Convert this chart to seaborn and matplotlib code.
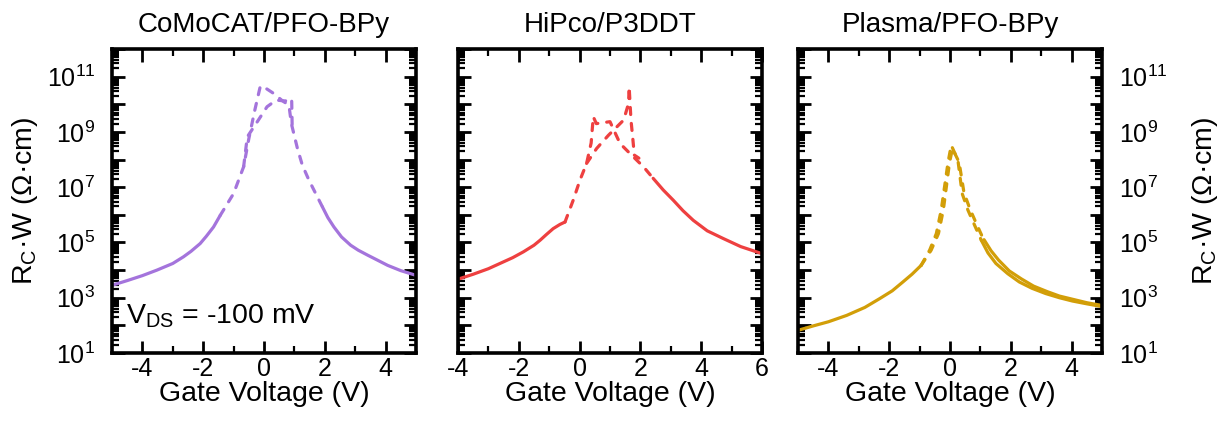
import numpy as np
import pandas as pd
import matplotlib
matplotlib.use("Agg")
import matplotlib.pyplot as plt
import seaborn as sns
from matplotlib.ticker import LogLocator, MultipleLocator, NullFormatter

# ---------------- data (gate voltage V, log10 of R_C*W in ohm*cm) ----------------
titles = ["CoMoCAT/PFO-BPy", "HiPco/P3DDT", "Plasma/PFO-BPy"]
colors = ["#A474DC", "#EE4040", "#D29E08"]
xlims = [(-5, 5), (-4, 6), (-5, 5)]

# CoMoCAT/PFO-BPy
como_solid_left_v = [-5.0, -4.5, -4.0, -3.52, -3.0, -2.65, -2.4, -2.10, -1.9, -1.66, -1.44]
como_solid_left_l = [3.45, 3.62, 3.80, 4.00, 4.24, 4.48, 4.68, 4.96, 5.22, 5.56, 5.98]
como_dash_a_v = [-1.44, -1.0, -0.67, -0.5, -0.3, -0.12, 0.1, 0.32, 0.6, 0.82, 0.9, 1.1, 1.26, 1.48, 1.70, 1.92]
como_dash_a_l = [5.98, 6.77, 7.74, 8.75, 9.8, 10.66, 10.55, 10.39, 10.13, 9.97, 9.3, 8.4, 7.8, 7.25, 6.77, 6.29]
como_dash_b_v = [-0.67, -0.55, -0.22, 0.1, 0.4, 0.7, 0.91, 0.93]
como_dash_b_l = [7.74, 8.82, 9.37, 9.91, 10.15, 10.12, 10.2, 9.0]
como_solid_right_v = [1.92, 2.1, 2.30, 2.55, 2.85, 3.1, 3.41, 3.75, 4.07, 4.5, 5.0]
como_solid_right_l = [6.29, 5.9, 5.56, 5.2, 4.90, 4.72, 4.54, 4.35, 4.17, 3.98, 3.81]

# HiPco/P3DDT
hipco_solid_left_v = [-4.0, -3.5, -3.0, -2.62, -2.2, -1.85, -1.5, -1.30, -1.1, -0.87, -0.65, -0.48]
hipco_solid_left_l = [3.67, 3.85, 4.05, 4.24, 4.45, 4.66, 4.90, 5.08, 5.28, 5.50, 5.65, 5.74]
hipco_dash_a_v = [-0.48, -0.21, 0.01, 0.23, 0.38, 0.45, 0.55, 1.0, 1.33, 1.71, 2.10, 2.42]
hipco_dash_a_l = [5.74, 6.53, 7.25, 7.86, 8.6, 9.55, 9.3, 9.37, 8.58, 8.16, 7.74, 7.32]
hipco_dash_b_v = [0.23, 0.56, 0.95, 1.45, 1.61, 1.63, 1.69, 1.75, 1.80, 1.95]
hipco_dash_b_l = [7.86, 8.40, 8.88, 9.43, 10.03, 10.63, 9.43, 8.76, 8.16, 8.05]
hipco_solid_right_v = [2.42, 2.75, 3.08, 3.4, 3.74, 4.2, 4.73, 5.3, 5.93, 6.0]
hipco_solid_right_l = [7.32, 6.90, 6.53, 6.15, 5.80, 5.42, 5.14, 4.85, 4.62, 4.60]

# Plasma/PFO-BPy
plasma_solid_left_v = [-5.0, -4.5, -4.0, -3.40, -2.8, -2.31, -1.9, -1.55, -1.25, -0.95]
plasma_solid_left_l = [1.82, 1.98, 2.13, 2.36, 2.65, 2.97, 3.25, 3.57, 3.85, 4.17]
plasma_dash_a_v = [-0.95, -0.67, -0.45, -0.29, -0.18, -0.07, 0.04, 0.26, 0.40, 0.59, 0.81, 1.03]
plasma_dash_a_l = [4.17, 4.72, 5.32, 6.17, 7.01, 7.86, 8.52, 7.98, 6.77, 6.17, 5.62, 5.08]
plasma_dash_b_v = [-0.95, -0.62, -0.38, -0.22, -0.12, -0.02, 0.08, 0.30, 0.46, 0.66, 0.88, 1.10]
plasma_dash_b_l = [4.17, 4.72, 5.32, 6.17, 7.01, 7.86, 8.40, 7.90, 6.80, 6.20, 5.65, 5.12]
plasma_solid_right_a_v = [1.03, 1.25, 1.51, 1.9, 2.28, 2.7, 3.15, 3.6, 4.03, 4.5, 5.0]
plasma_solid_right_a_l = [5.08, 4.62, 4.24, 3.87, 3.57, 3.34, 3.15, 3.00, 2.88, 2.78, 2.68]
plasma_solid_right_b_v = [1.12, 1.35, 1.60, 1.95, 2.35, 2.75, 3.2, 3.6, 4.05, 4.5, 5.0]
plasma_solid_right_b_l = [5.10, 4.70, 4.36, 3.97, 3.68, 3.42, 3.22, 3.06, 2.94, 2.82, 2.72]

panels = [
    dict(solid=[(como_solid_left_v, como_solid_left_l), (como_solid_right_v, como_solid_right_l)],
         dashed=[(como_dash_a_v, como_dash_a_l), (como_dash_b_v, como_dash_b_l)]),
    dict(solid=[(hipco_solid_left_v, hipco_solid_left_l), (hipco_solid_right_v, hipco_solid_right_l)],
         dashed=[(hipco_dash_a_v, hipco_dash_a_l), (hipco_dash_b_v, hipco_dash_b_l)]),
    dict(solid=[(plasma_solid_left_v, plasma_solid_left_l), (plasma_solid_right_a_v, plasma_solid_right_a_l),
                (plasma_solid_right_b_v, plasma_solid_right_b_l)],
         dashed=[(plasma_dash_a_v, plasma_dash_a_l), (plasma_dash_b_v, plasma_dash_b_l)]),
]

# ---------------- style ----------------
sns.set_theme(style="ticks")
plt.rcParams["font.family"] = ["Liberation Sans", "DejaVu Sans"]
plt.rcParams["mathtext.fontset"] = "custom"
plt.rcParams["mathtext.rm"] = "Liberation Sans"
plt.rcParams["mathtext.it"] = "Liberation Sans:italic"
plt.rcParams["mathtext.default"] = "regular"
plt.rcParams["axes.unicode_minus"] = False
plt.rcParams["text.color"] = "black"
plt.rcParams["axes.labelcolor"] = "black"
plt.rcParams["xtick.color"] = "black"
plt.rcParams["ytick.color"] = "black"

fig = plt.figure(figsize=(12.27, 4.24), dpi=100)
lefts = [112 / 1227, 458 / 1227, 798 / 1227]
width = 304 / 1227
bottom = 1 - 353 / 424
height = (353 - 49) / 424
ylabel = "R$_{C}$·W (Ω·cm)"

for i, (p, left) in enumerate(zip(panels, lefts)):
    ax = fig.add_axes([left, bottom, width, height])
    ax.set_yscale("log")
    for v, l in p["solid"]:
        df = pd.DataFrame({"V": v, "R": 10 ** np.array(l)})
        sns.lineplot(data=df, x="V", y="R", ax=ax, color=colors[i], lw=2.3,
                     sort=False, estimator=None, solid_capstyle="round",
                     solid_joinstyle="round")
    for v, l in p["dashed"]:
        df = pd.DataFrame({"V": v, "R": 10 ** np.array(l)})
        sns.lineplot(data=df, x="V", y="R", ax=ax, color=colors[i], lw=2.3,
                     sort=False, estimator=None, linestyle=(0, (2.2, 2.8)),
                     dash_capstyle="round")
    ax.set_xlim(*xlims[i])
    ax.set_ylim(1e1, 1e12)
    ax.xaxis.set_major_locator(MultipleLocator(2))
    ax.xaxis.set_minor_locator(MultipleLocator(1))
    ax.yaxis.set_minor_locator(LogLocator(base=10, subs=np.arange(2, 10), numticks=100))
    ax.yaxis.set_minor_formatter(NullFormatter())
    ax.tick_params(which="both", direction="in", top=True, right=True, width=2.0,
                   labelsize=18, colors="black")
    ax.tick_params(axis="x", which="both", pad=3)
    ax.tick_params(axis="y", which="both", pad=12)
    ax.tick_params(which="major", length=9)
    ax.tick_params(which="minor", length=5, width=1.6)
    for s in ax.spines.values():
        s.set_linewidth(2.6)
        s.set_color("black")
    ax.set_yticks([10 ** k for k in range(1, 13)])
    ax.set_yticklabels(["$10^{%d}$" % k if k % 2 == 1 else "" for k in range(1, 13)])
    ax.set_xlabel("Gate Voltage (V)", fontsize=20.5, labelpad=0)
    ax.set_title(titles[i], fontsize=20, pad=12)
    if i == 0:
        ax.set_ylabel(ylabel, fontsize=20.5, labelpad=5)
        ax.text(0.045, 0.075, "V$_{DS}$ = -100 mV", transform=ax.transAxes, fontsize=20.5,
                ha="left", va="bottom")
    elif i == 1:
        ax.set_ylabel("")
        ax.tick_params(axis="y", labelleft=False)
    else:
        ax.set_ylabel(ylabel, fontsize=20.5, labelpad=16)
        ax.yaxis.set_label_position("right")
        ax.tick_params(axis="y", labelleft=False, labelright=True)

fig.savefig("out.png", dpi=100)
